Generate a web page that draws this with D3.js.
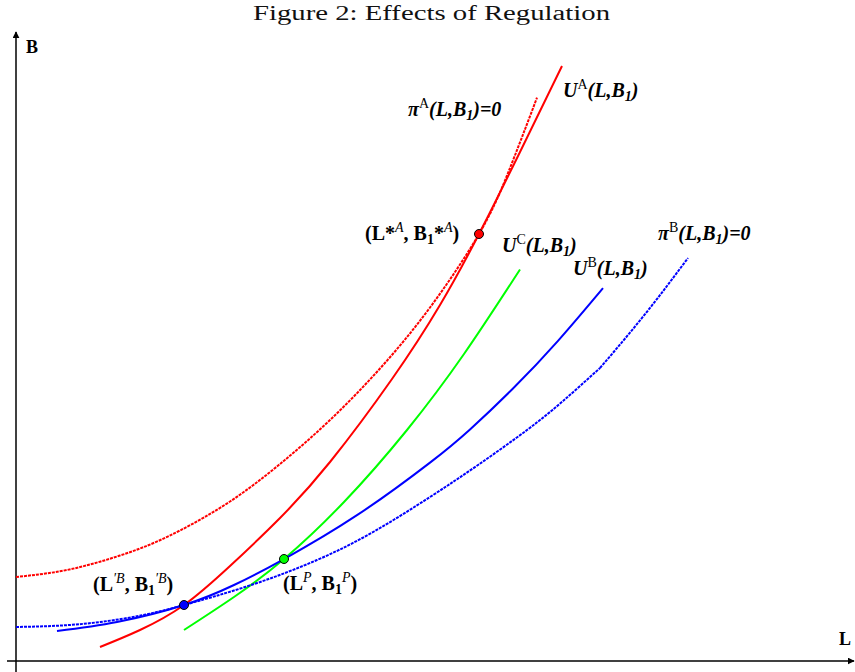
<!DOCTYPE html>
<html>
<head>
<meta charset="utf-8">
<script src="https://cdn.jsdelivr.net/npm/d3@7"></script>
<style>
  html, body { margin: 0; padding: 0; background: #fff; }
  svg { display: block; }
</style>
</head>
<body>
<svg id="chart" width="855" height="672"></svg>
<script>
// ---- data (L, B) in chart units ----
const piA = [[0,84],[44,89.7],[84,99.3],[124,112.5],[164,130.5],[214,159.5],[264,197],[314,241],[364,292.5],[414,353.5],[463,427],[492,488],[521,563.3]];
const uA  = [[84,14],[124,31],[168,56],[214,95],[264,143],[314,199],[376,282],[424,356],[463,427],[504,509],[546,595]];
const uC  = [[168,31],[218,64],[268,102],[328,159],[391,231],[448,307],[504,391.5]];
const uB  = [[41,30],[101,39],[168,56],[218,76],[268,102],[341,145.8],[414,198.4],[454,231.6],[497,272.5],[542,320.2],[587,372.9]];
const piB = [[0,34],[42,35.3],[84,39],[126,45.7],[168,56],[234,75.6],[301,101],[358,129.5],[414,164],[462,196],[511,231],[547,260],[584,293],[614,328.4],[643,364.6],[672,403]];
const piBKinkIndex = 12; // the π^B curve has a visible kink at this point
const eqPoints = [
  {name:"A", L:463, B:427, color:"#ff0000"},
  {name:"B", L:168, B:56,  color:"#0000ff"},
  {name:"P", L:268, B:102, color:"#00ff00"}
];
// labels: position in chart units (left, baseline) and rich-text parts
// kinds: m = main bold italic, mu = main bold upright, sup = superscript,
// supi = italic superscript, sub = italic bold subscript, subu = upright bold subscript
const labels = [
  {L:392, B:545, parts:[["π","m"],["A","sup"],["(L,B","m"],["1","sub"],[")=0","m"]]},
  {L:547, B:564, parts:[["U","m"],["A","sup"],["(L,B","m"],["1","sub"],[")","m"]]},
  {L:349, B:421, parts:[["(L*","mu"],["A","supi"],[", B","mu"],["1","subu"],["*","mu"],["A","supi"],[")","mu"]]},
  {L:486, B:409, parts:[["U","m"],["C","sup"],["(L,B","m"],["1","sub"],[")","m"]]},
  {L:557, B:386, parts:[["U","m"],["B","sup"],["(L,B","m"],["1","sub"],[")","m"]]},
  {L:642, B:421, parts:[["π","m"],["B","sup"],["(L,B","m"],["1","sub"],[")=0","m"]]},
  {L:77,  B:70,  parts:[["(L","mu"],["′B","supi"],[", B","mu"],["1","subu"],["′B","supi"],[")","mu"]]},
  {L:267, B:71,  parts:[["(L","mu"],["P","supi"],[", B","mu"],["1","subu"],["P","supi"],[")","mu"]]}
];
const title = "Figure 2: Effects of Regulation";
const axisNames = {x:"L", y:"B"};

// ---- drawing ----
const W = 855, H = 672;
const svg = d3.select("#chart");
const x = d3.scaleLinear().domain([0, 835]).range([16, 851]);
const y = d3.scaleLinear().domain([0, 626]).range([661, 35]);

const curves = [
  {pts:piA, color:"#ff0000", dashed:true},
  {pts:uA,  color:"#ff0000", dashed:false},
  {pts:uC,  color:"#00ff00", dashed:false},
  {pts:uB,  color:"#0000ff", dashed:false},
  {pts:piB.slice(0, piBKinkIndex + 1), color:"#0000ff", dashed:true},
  {pts:piB.slice(piBKinkIndex), color:"#0000ff", dashed:true}
];

// title
svg.append("text")
  .attr("x", 253).attr("y", 20)
  .attr("font-family", "'Liberation Serif',serif")
  .attr("font-size", 20)
  .attr("textLength", 357)
  .attr("lengthAdjust", "spacingAndGlyphs")
  .attr("fill", "#111")
  .text(title);

// axes
const defs = svg.append("defs");
defs.append("marker").attr("id","arrow").attr("viewBox","0 0 10 10")
  .attr("refX",9).attr("refY",5).attr("markerWidth",7).attr("markerHeight",7)
  .attr("markerUnits","userSpaceOnUse")
  .attr("orient","auto")
  .append("path").attr("d","M0,0 L10,5 L0,10 z").attr("fill","#000");

svg.append("line")
  .attr("x1", x(0)).attr("x2", x(0))
  .attr("y1", H).attr("y2", y(629))
  .attr("stroke", "#000").attr("stroke-width", 1.5)
  .attr("marker-end", "url(#arrow)");
svg.append("line")
  .attr("x1", x(-9)).attr("x2", x(838))
  .attr("y1", y(0)).attr("y2", y(0))
  .attr("stroke", "#000").attr("stroke-width", 1.5)
  .attr("marker-end", "url(#arrow)");

svg.append("text").attr("x", x(10)).attr("y", y(608))
  .attr("font-family","'Liberation Serif',serif").attr("font-weight","bold")
  .attr("font-size", 18).text(axisNames.y);
svg.append("text").attr("x", x(823)).attr("y", y(16))
  .attr("font-family","'Liberation Serif',serif").attr("font-weight","bold")
  .attr("font-size", 18).text(axisNames.x);

// curves
const line = d3.line()
  .x(d => x(d[0])).y(d => y(d[1]))
  .curve(d3.curveNatural);

svg.append("g").selectAll("path").data(curves).join("path")
  .attr("d", d => line(d.pts))
  .attr("fill", "none")
  .attr("stroke", d => d.color)
  .attr("stroke-width", 2)
  .attr("stroke-dasharray", d => d.dashed ? "3,1" : null);

// points
svg.append("g").selectAll("circle").data(eqPoints).join("circle")
  .attr("cx", d => x(d.L)).attr("cy", d => y(d.B))
  .attr("r", 4.5)
  .attr("fill", d => d.color)
  .attr("stroke", "#000").attr("stroke-width", 1);

// labels
const styles = {
  m:   {size:20, style:"italic", weight:"bold", dy:0},
  mu:  {size:20, style:"normal", weight:"bold", dy:0},
  sup: {size:14, style:"normal", weight:"normal", dy:-8},
  supi:{size:14, style:"italic", weight:"normal", dy:-8},
  sub: {size:14, style:"italic", weight:"bold", dy:4},
  subu:{size:14, style:"normal", weight:"bold", dy:4}
};
labels.forEach(lb => {
  const t = svg.append("text")
    .attr("x", x(lb.L)).attr("y", y(lb.B))
    .attr("font-family", "'Liberation Serif','Times New Roman',serif")
    .attr("fill", "#000");
  let cur = 0;
  lb.parts.forEach(([txt, kind]) => {
    const s = styles[kind];
    t.append("tspan")
      .attr("dy", s.dy - cur)
      .attr("font-size", s.size)
      .attr("font-style", s.style)
      .attr("font-weight", s.weight)
      .text(txt);
    cur = s.dy;
  });
});
</script>
</body>
</html>
